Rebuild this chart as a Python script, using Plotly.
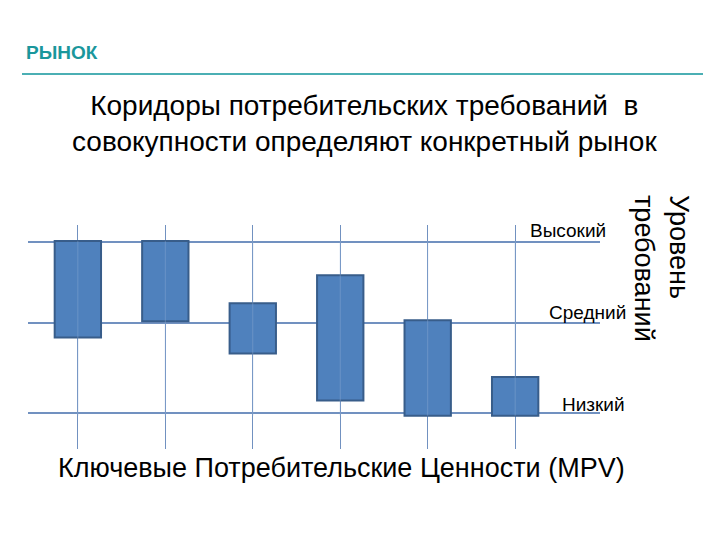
import plotly.graph_objects as go

# Data
categories = [1, 2, 3, 4, 5, 6]          # ключевые потребительские ценности (MPV 1..6)
corridor_top = [2.91, 2.91, 2.22, 2.53, 2.03, 1.40]
corridor_bottom = [1.84, 2.02, 1.66, 1.14, 0.97, 0.97]
level_names = ["Низкий", "Средний", "Высокий"]
level_values = [1.0, 2.0, 2.9]

FONT = "Liberation Sans, Arial, sans-serif"
GRID = "#7191C0"

fig = go.Figure()
fig.add_trace(go.Bar(
    x=categories,
    y=[t - b for t, b in zip(corridor_top, corridor_bottom)],
    base=corridor_bottom,
    width=0.53,
    marker=dict(color="#4F81BD", line=dict(color="#385D8A", width=2)),
    hoverinfo="skip",
))
# faint vertical lines visible through the boxes
for c in categories:
    fig.add_trace(go.Scatter(
        x=[c, c], y=[min(corridor_bottom), max(corridor_top)],
        mode="lines", line=dict(color="rgba(140,170,210,0.45)", width=1),
        hoverinfo="skip",
    ))

fig.update_layout(
    width=720, height=540,
    paper_bgcolor="white", plot_bgcolor="white",
    showlegend=False,
    margin=dict(l=20, r=128, t=217, b=99),
    xaxis=dict(range=[0.43, 6.97], tickvals=categories, showticklabels=False,
               showgrid=True, gridcolor=GRID, gridwidth=1.2, zeroline=False,
               showline=False, ticks=""),
    yaxis=dict(range=[0.6, 3.089], tickvals=level_values, showticklabels=False,
               showgrid=True, gridcolor=GRID, gridwidth=1.5, zeroline=False,
               showline=False, ticks=""),
    font=dict(family=FONT, color="black"),
)

def px(X):
    return (X - 28) / 572

def py(Y):
    return (449 - Y) / 224

# header
fig.add_annotation(xref="paper", yref="paper", x=px(24), y=py(52),
                   text="<b>РЫНОК</b>", showarrow=False, xanchor="left", yanchor="middle",
                   font=dict(family=FONT, size=19, color="#1A979C"))
fig.add_shape(type="line", xref="paper", yref="paper",
              x0=px(22), x1=px(703), y0=py(74), y1=py(74),
              line=dict(color="#4BAFB4", width=2))

# title
fig.add_annotation(xref="paper", yref="paper", x=px(364), y=py(123),
                   text="Коридоры потребительских требований  в<br>совокупности определяют конкретный рынок",
                   showarrow=False, xanchor="center", yanchor="middle",
                   font=dict(family=FONT, size=28, color="black"))

# level labels
label_y = {"Высокий": 230, "Средний": 312, "Низкий": 404}
label_x = {"Высокий": 608, "Средний": 628, "Низкий": 627}
for name, val in zip(level_names, level_values):
    fig.add_annotation(xref="paper", yref="paper",
                       x=px(label_x[name]), y=py(label_y[name]),
                       text=name, showarrow=False, xanchor="right", yanchor="middle",
                       font=dict(family=FONT, size=19, color="black"))

# right vertical axis title
fig.add_annotation(xref="paper", yref="paper", x=px(662), y=py(268),
                   text="Уровень<br>требований", textangle=90, align="left",
                   showarrow=False, xanchor="center", yanchor="middle",
                   font=dict(family=FONT, size=27, color="black"))

# bottom axis title
fig.add_annotation(xref="paper", yref="paper", x=px(341), y=py(468),
                   text="Ключевые Потребительские Ценности (MPV)",
                   showarrow=False, xanchor="center", yanchor="middle",
                   font=dict(family=FONT, size=27, color="black"))

fig.write_html("out.html")
